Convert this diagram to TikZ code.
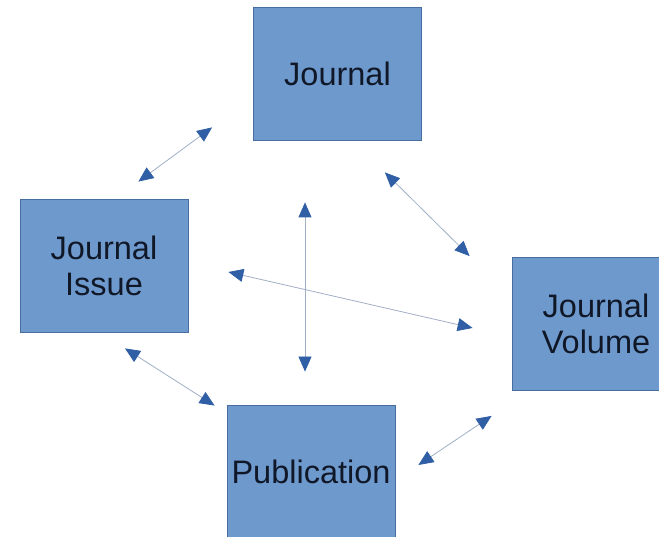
\documentclass[tikz,border=0pt]{standalone}
\usepackage{fontspec}
\setmainfont{Liberation Sans}
\usetikzlibrary{shapes,arrows.meta}
\definecolor{boxblue}{RGB}{110,153,205}
\definecolor{boxedge}{RGB}{72,110,160}
\definecolor{headblue}{RGB}{48,95,165}
\definecolor{linegray}{RGB}{160,174,198}
\definecolor{textdark}{RGB}{16,24,40}
\tikzstyle{block} = [draw=boxedge, line width=0.8pt, fill=boxblue, rectangle,
    minimum height=133pt, minimum width=168pt, inner sep=0pt, align=center,
    text=textdark, font=\fontsize{32.5}{36}\selectfont]
\tikzstyle{link} = [draw=linegray, line width=0.8pt, <->,
    >={Triangle[length=15pt,width=13pt,color=headblue]}]

\begin{document}
\begin{tikzpicture}[x=1pt, y=1pt]
\useasboundingbox (0,0) rectangle (659,537);

\node [block, name=journal] at (337.5,463.5) {Journal};
\node [block, name=issue] at (104,271.5) {Journal\\Issue};
\node [block, name=volume] at (596,213) {Journal\\Volume};
\node [block, name=pub] at (311,65.5) {Publication};

\draw [link] ([shift={(-41,13)}]journal.south west) -- ([shift={(-50,17)}]issue.north east);
\draw [link] ([shift={(-37,-32)}]journal.south east) -- ([shift={(-42,1)}]volume.north west);
\draw [link] ([shift={(-32.5,-62)}]journal.south) -- ([shift={(-6,33)}]pub.north);
\draw [link] ([shift={(40,-6.5)}]issue.east) -- ([shift={(-39,-4)}]volume.west);
\draw [link] ([shift={(21,-16)}]issue.south) -- ([shift={(-12,-1)}]pub.north west);
\draw [link] ([shift={(23,6.5)}]pub.east) -- ([shift={(-20,-25)}]volume.south west);

\end{tikzpicture}
\end{document}
